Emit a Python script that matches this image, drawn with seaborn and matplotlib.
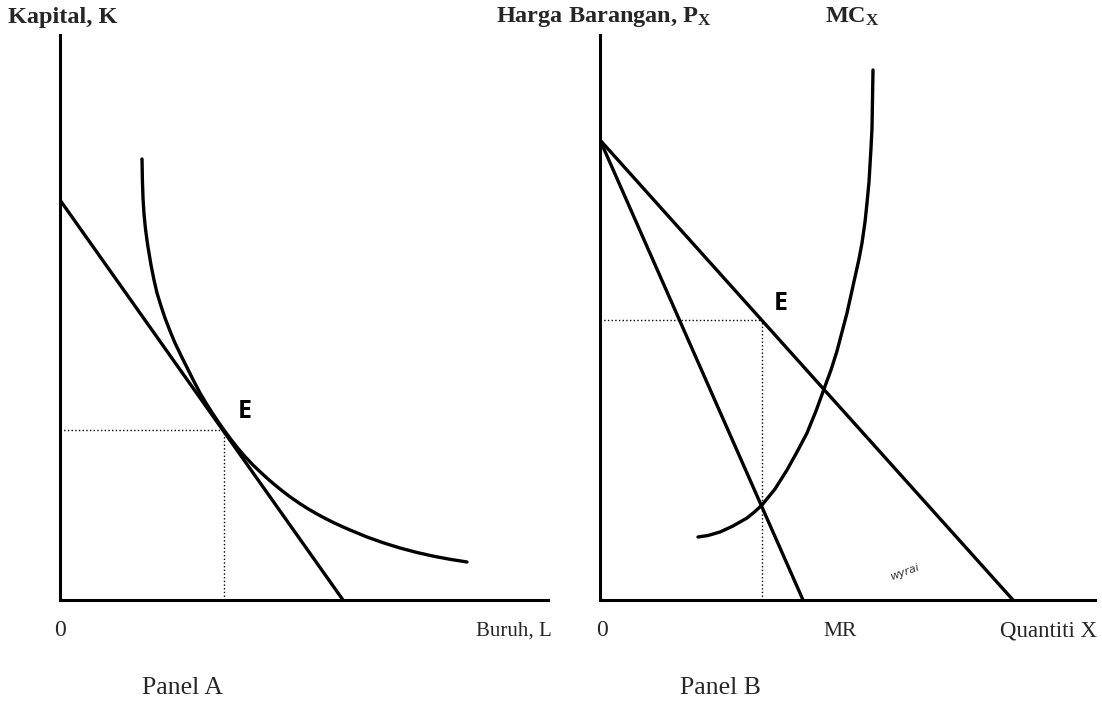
import numpy as np
import pandas as pd
import seaborn as sns
import matplotlib.pyplot as plt

sns.set_theme(style="white")
plt.rcParams['font.family'] = ['Liberation Serif', 'DejaVu Serif']
plt.rcParams['mathtext.fontset'] = 'custom'
plt.rcParams['mathtext.rm'] = 'Liberation Serif'
plt.rcParams['mathtext.bf'] = 'Liberation Serif:bold'

# Panel A: isocost line and isoquant (chart units measured from the origin)
budget_L = [0, 283]
budget_K = [400, 0]
iso_L = [82, 82.4, 83, 84, 85.5, 87.5, 91, 94, 97, 101, 105, 110, 115, 121, 127,
         133, 140, 146, 152, 158, 164, 171, 178, 185, 193, 200, 208, 215, 223,
         231, 240, 248, 257, 265, 274, 282, 290, 307, 323, 340, 357, 374, 390, 407]
iso_K = [441, 420, 402, 386, 371, 356, 335, 320, 307, 294, 282, 269, 257, 244.5,
         232.5, 220.5, 207, 197, 187.5, 178.5, 170, 160.5, 151.6, 143.4, 135,
         128.3, 121, 115, 108.5, 102.5, 96.3, 91.2, 86, 81.7, 77.2, 73.5, 70, 63,
         57.3, 52, 47.5, 43.7, 40.7, 38]
eq_A = (164, 170)

# Panel B: demand, MR and MC
demand_X = [0, 413]
demand_P = [460, 0]
mr_X = [0, 203]
mr_P = [460, 0]
mc_X = [98, 108, 120, 133, 147, 155, 162, 175, 187, 197, 207, 216, 224, 231, 237,
        242, 247, 251, 255, 259, 262, 265, 267, 269, 270, 271, 272, 273]
mc_P = [63, 64.5, 68, 74, 82, 88.5, 95, 111, 130, 148, 167, 189, 211, 230, 249,
        268, 287, 305, 323, 341, 357, 378, 397, 418, 435, 452, 472, 530]
eq_B = (162, 280)

W, H = 1102, 712
fig = plt.figure(figsize=(W / 100, H / 100), dpi=100)


def frac(x, y):
    return x / W, 1 - y / H


axA = fig.add_axes([60 / W, 112 / H, 488 / W, 565 / H])
axB = fig.add_axes([600 / W, 112 / H, 495 / W, 565 / H])
axA.set_xlim(0, 488); axA.set_ylim(0, 565)
axB.set_xlim(0, 495); axB.set_ylim(0, 565)

for ax in (axA, axB):
    for s in ("top", "right"):
        ax.spines[s].set_visible(False)
    for s in ("left", "bottom"):
        ax.spines[s].set_color("black")
        ax.spines[s].set_linewidth(2.2)
    ax.set_xticks([]); ax.set_yticks([])
    ax.set_facecolor("white")

lw = 2.4
sns.lineplot(x=budget_L, y=budget_K, color="black", lw=lw, ax=axA, sort=False)
sns.lineplot(x=iso_L, y=iso_K, color="black", lw=lw, ax=axA, sort=False)
axA.plot([0, eq_A[0]], [eq_A[1], eq_A[1]], ls=":", color="black", lw=1)
axA.plot([eq_A[0], eq_A[0]], [0, eq_A[1]], ls=":", color="black", lw=1)

sns.lineplot(x=demand_X, y=demand_P, color="black", lw=lw, ax=axB, sort=False)
sns.lineplot(x=mr_X, y=mr_P, color="black", lw=lw, ax=axB, sort=False)
sns.lineplot(x=mc_X, y=mc_P, color="black", lw=lw, ax=axB, sort=False)
axB.plot([0, eq_B[0]], [eq_B[1], eq_B[1]], ls=":", color="black", lw=1)
axB.plot([eq_B[0], eq_B[0]], [0, eq_B[1]], ls=":", color="black", lw=1)

# E labels
axA.text(eq_A[0] + 14, eq_A[1] + 18, "E", family="Open Sans", weight="bold",
         fontsize=18, color="black", va="center", ha="left")
axB.text(eq_B[0] + 12, eq_B[1] + 17, "E", family="Open Sans", weight="bold",
         fontsize=18, color="black", va="center", ha="left")

# axis titles
fig.text(*frac(8, 17), "Kapital, K", fontsize=17.5, weight="bold",
         ha="left", va="center")
fig.text(*frac(712, 17), r"Harga Barangan, $\mathbf{P_X}$", fontsize=17.5,
         weight="bold", ha="right", va="center")
fig.text(*frac(825, 17), r"$\mathbf{MC_X}$", fontsize=17.5, ha="left",
         va="center")

fs = 15.5
fig.text(*frac(60, 631), "0", fontsize=17, ha="center", va="center")
fig.text(*frac(552, 631), "Buruh, L", fontsize=fs - 0.5, ha="right", va="center")
fig.text(*frac(602, 631), "0", fontsize=17, ha="center", va="center")
fig.text(*frac(840, 631), "MR", fontsize=fs, ha="center", va="center")
fig.text(*frac(1097, 631), "Quantiti X", fontsize=fs + 1, ha="right", va="center")

fig.text(*frac(183, 688), "Panel A", fontsize=18.5, ha="center", va="center")
fig.text(*frac(720, 688), "Panel B", fontsize=18.5, ha="center", va="center")

# handwritten scribble on the scan
fig.text(*frac(905, 572), "wyrai", fontsize=8, style="italic", rotation=20,
         color="#333333", ha="center", va="center", family="DejaVu Sans")

fig.savefig("out.png", dpi=100, facecolor="white")
